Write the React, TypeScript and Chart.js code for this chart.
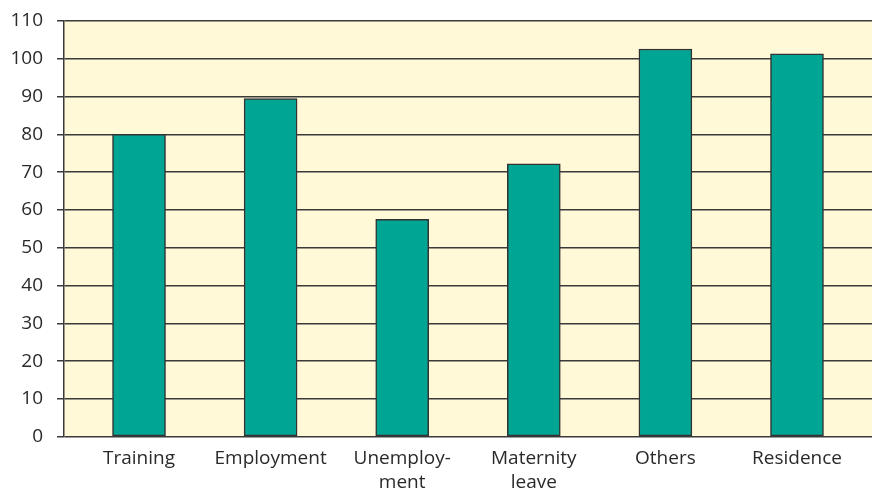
import React, { useEffect, useRef } from "react";
import { Chart, registerables } from "chart.js";

Chart.register(...registerables);

const categories: (string | string[])[] = [
  "Training",
  "Employment",
  ["Unemploy-", "ment"],
  ["Maternity", "leave"],
  "Others",
  "Residence",
];
const values: number[] = [80, 89.5, 57.5, 72.2, 102.6, 101.3];
const yMax = 110;
const yStep = 10;

const bgPlugin = {
  id: "plotBg",
  beforeDraw(chart: any) {
    const { ctx, chartArea } = chart;
    if (!chartArea) return;
    ctx.save();
    ctx.fillStyle = "#FFF9D7";
    ctx.fillRect(chartArea.left, chartArea.top, chartArea.right - chartArea.left, chartArea.bottom - chartArea.top);
    ctx.restore();
  },
};

export default function App() {
  const ref = useRef<HTMLCanvasElement | null>(null);
  useEffect(() => {
    if (!ref.current) return;
    const font = { family: "'Open Sans', sans-serif", size: 19, lineHeight: 1.25 };
    const chart = new Chart(ref.current, {
      type: "bar",
      data: {
        datasets: [
          {
            data: values.map((v, i) => ({ x: i, y: v })),
            backgroundColor: "#00A693",
            borderColor: "#333333",
            borderWidth: 1.5,
            borderSkipped: false,
            barThickness: 53,
          },
        ],
      },
      plugins: [bgPlugin],
      options: {
        animation: false,
        responsive: false,
        maintainAspectRatio: false,
        layout: { padding: { top: 21, right: 0, left: 0, bottom: 0 } },
        plugins: { legend: { display: false }, tooltip: { enabled: false } },
        scales: {
          x: {
            type: "linear",
            offset: false,
            min: -0.57,
            max: 5.57,
            grid: { display: false },
            border: { display: false },
            afterFit(scale: any) {
              scale.height = 53.3;
              scale.paddingLeft = 0;
              scale.paddingRight = 0;
            },
            ticks: {
              stepSize: 1,
              includeBounds: false,
              autoSkip: false,
              maxRotation: 0,
              minRotation: 0,
              padding: 2,
              color: "#2a2a2a",
              font,
              callback: (v: any) => {
                const i = Math.round(Number(v));
                return Math.abs(Number(v) - i) < 1e-6 && categories[i] !== undefined ? categories[i] : "";
              },
            },
          },
          y: {
            min: 0,
            max: yMax,
            grid: {
              color: "#3a3a3a",
              lineWidth: 1.5,
              drawTicks: true,
              tickLength: 7,
            },
            border: { display: true, color: "#3a3a3a", width: 1.5 },
            afterFit(scale: any) {
              scale.width = 64;
              scale.paddingTop = 0;
              scale.paddingBottom = 0;
            },
            ticks: {
              stepSize: yStep,
              padding: 14,
              color: "#2a2a2a",
              font: { family: "'Open Sans', sans-serif", size: 19 },
            },
          },
        },
      },
    } as any);
    return () => chart.destroy();
  }, []);
  return (
    <div style={{ position: "fixed", left: 0, top: 0, width: 872, height: 490, background: "#fff" }}>
      <canvas ref={ref} width={872} height={490} style={{ width: 872, height: 490 }} />
    </div>
  );
}
